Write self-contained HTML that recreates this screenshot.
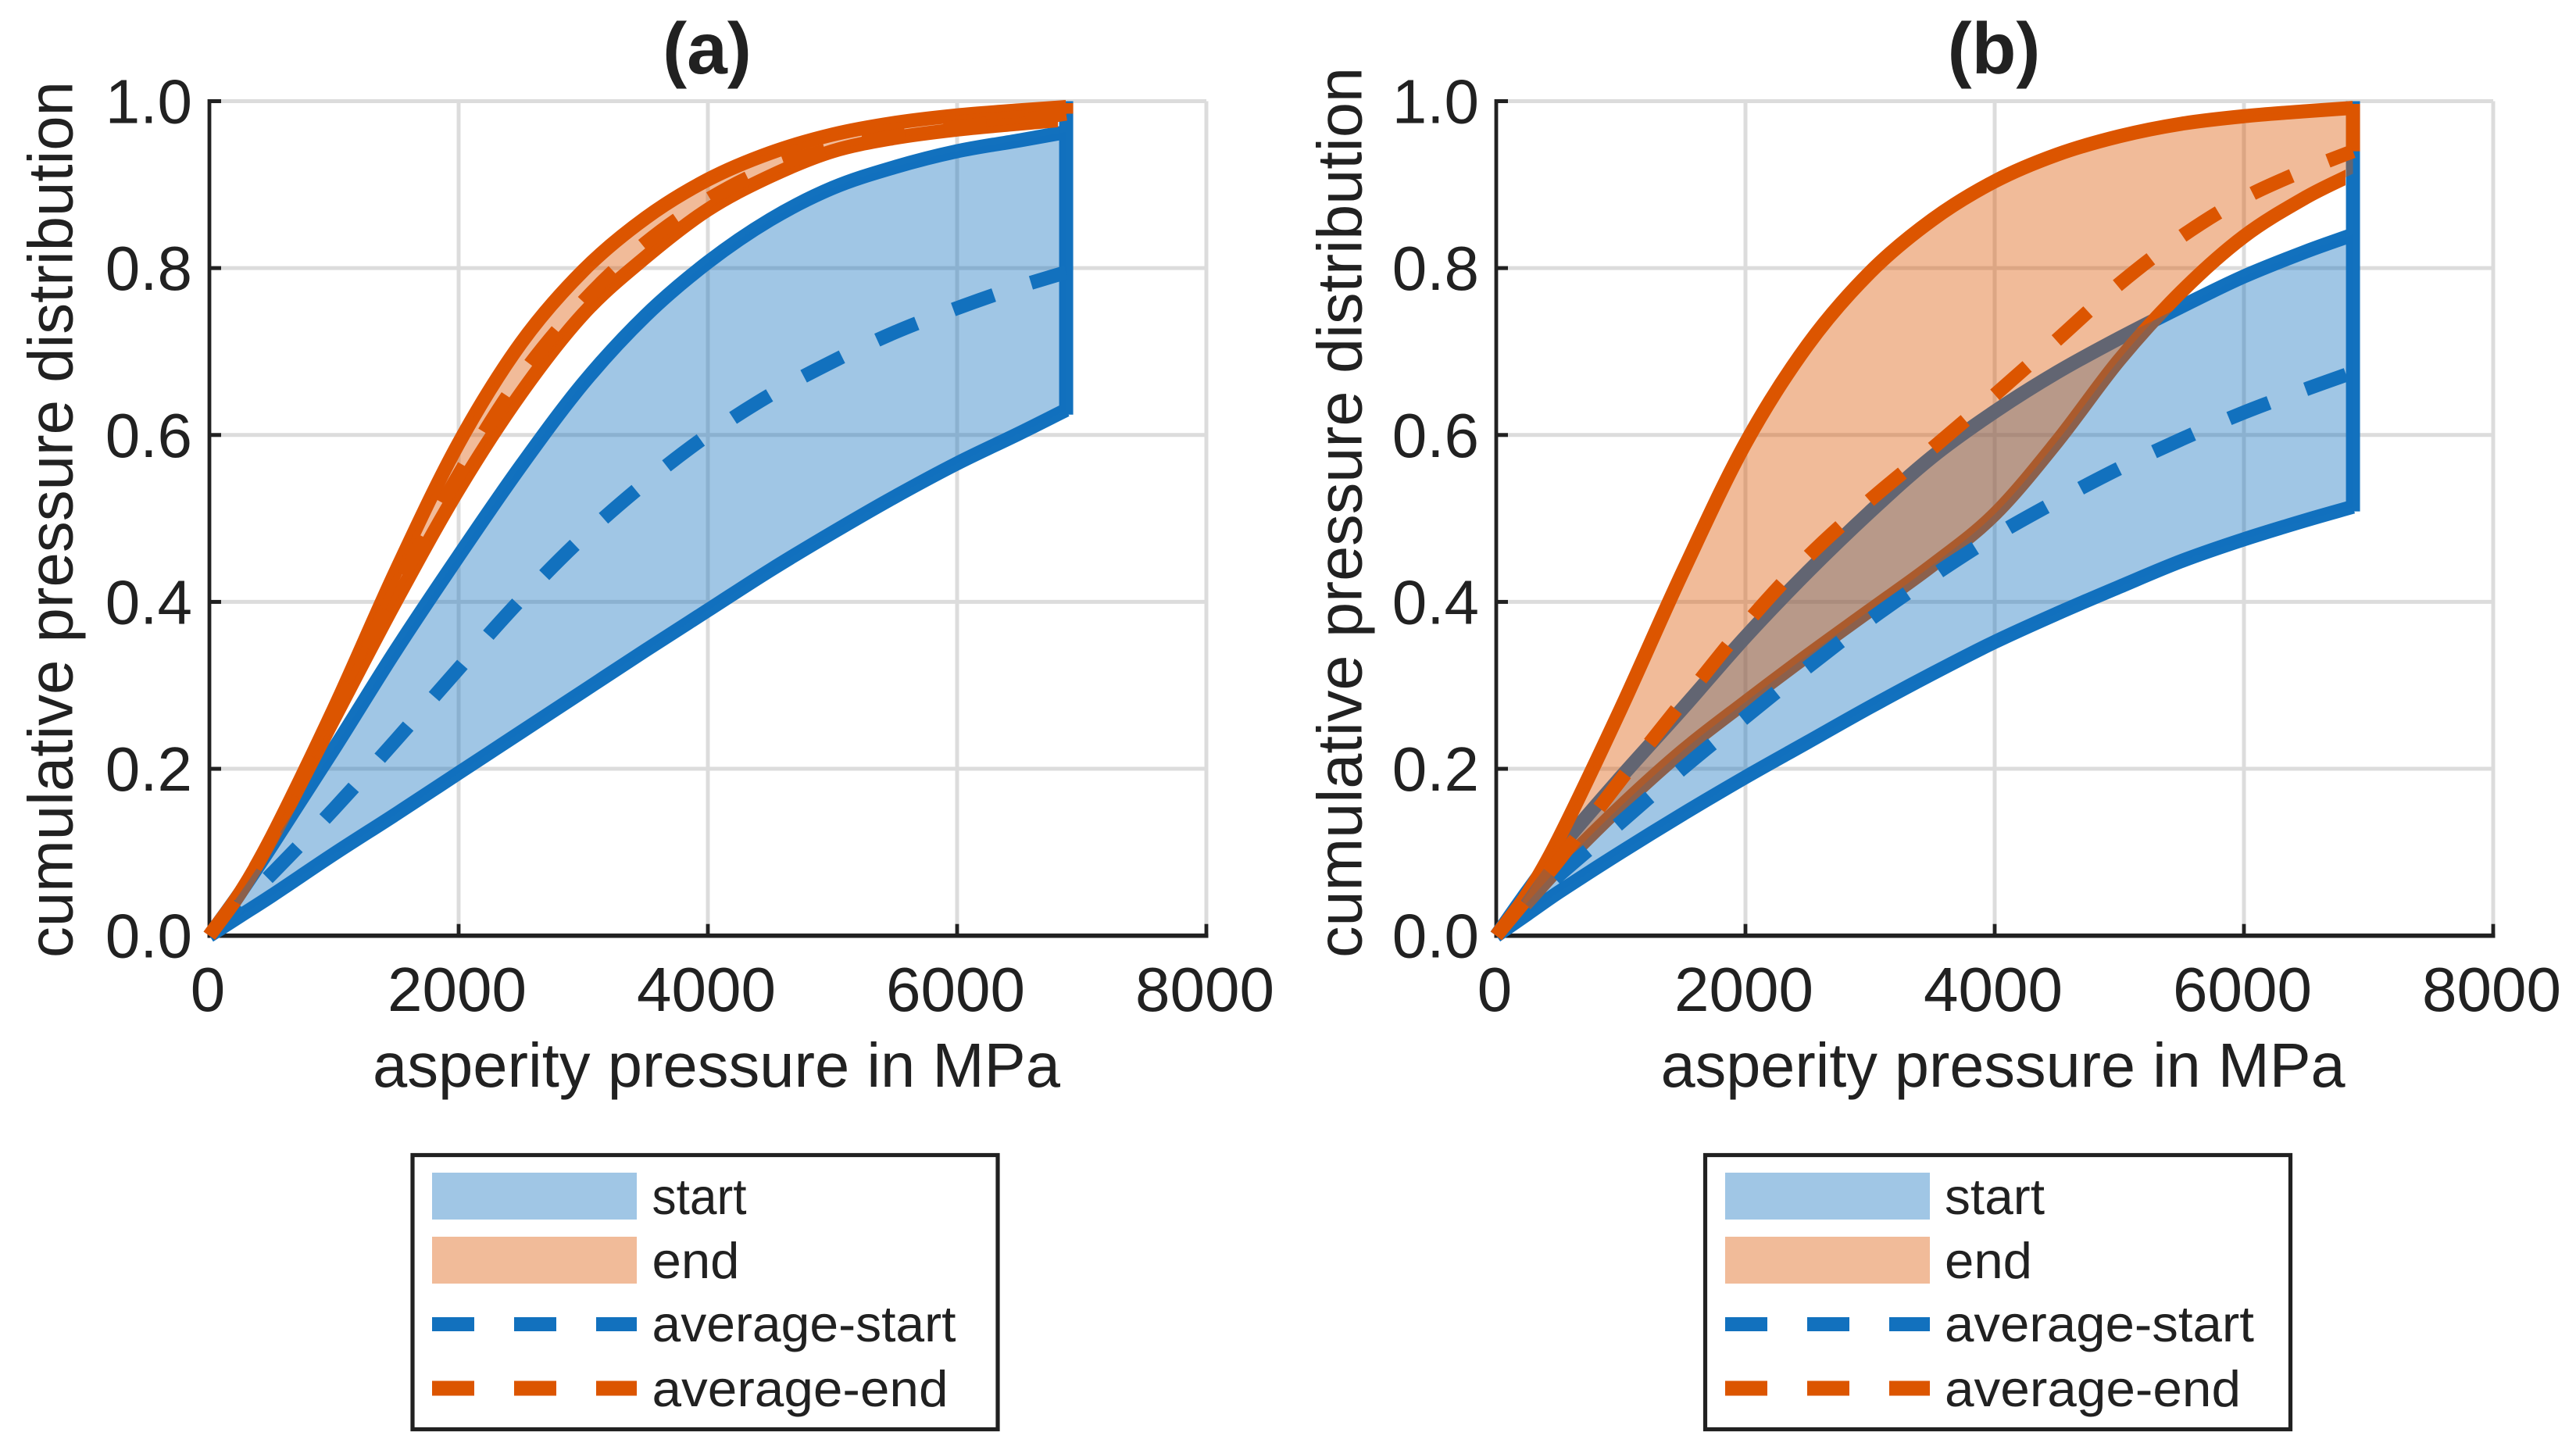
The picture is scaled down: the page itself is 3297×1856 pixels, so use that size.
<!DOCTYPE html>
<html lang="en">
<head>
<meta charset="utf-8">
<title>Cumulative pressure distribution</title>
<style>
html,body{margin:0;padding:0;background:#fff;}
svg{display:block;}
text{font-family:"Liberation Sans",Arial,sans-serif;fill:#212121;}
</style>
</head>
<body>
<svg id="figure" xmlns="http://www.w3.org/2000/svg" width="3297" height="1856" viewBox="0 0 3297 1856"></svg>
<script>
// Chart data
const xSamples = [0,250,500,1000,1500,2000,2500,3000,3500,4000,4500,5000,5500,6000,6500,6875];
const xTicks = [0,2000,4000,6000,8000];
const yTicks = [0,0.2,0.4,0.6,0.8,1.0];
const xTickLabels = ['0','2000','4000','6000','8000'];
const yTickLabels = ['0.0','0.2','0.4','0.6','0.8','1.0'];
const legendLabels = ['start','end','average-start','average-end'];

const aOrangeUpper = [0,.052,.118,.272,.438,.59,.71,.797,.86,.906,.938,.96,.974,.983,.989,.993];
const aOrangeLower = [0,.052,.116,.26,.402,.535,.65,.745,.813,.87,.91,.94,.956,.966,.973,.978];
const aOrangeAvg   = [0,.052,.118,.265,.415,.552,.67,.76,.83,.882,.92,.943,.958,.969,.977,.985];
const aBlueUpper   = [0,.052,.108,.224,.343,.455,.563,.662,.743,.807,.858,.896,.921,.94,.953,.963];
const aBlueAvg     = [0,.038,.074,.152,.235,.32,.403,.478,.543,.60,.648,.688,.723,.752,.778,.795];
const aBlueLower   = [0,.024,.048,.098,.146,.195,.244,.293,.342,.39,.438,.483,.526,.566,.602,.63];

const bOrangeUpper = [0,.05,.116,.272,.437,.59,.708,.795,.858,.904,.936,.958,.973,.982,.988,.992];
const bOrangeLower = [0,.04,.081,.155,.222,.28,.336,.39,.444,.505,.592,.69,.772,.838,.885,.913];
const bOrangeAvg   = [0,.045,.09,.187,.281,.373,.454,.522,.584,.648,.714,.781,.838,.884,.918,.94];
const bBlueUpper   = [0,.053,.103,.19,.273,.358,.436,.508,.574,.628,.675,.716,.754,.79,.82,.84];
const bBlueAvg     = [0,.037,.072,.136,.201,.262,.322,.379,.431,.479,.521,.56,.595,.627,.655,.675];
const bBlueLower   = [0,.026,.052,.10,.146,.19,.232,.274,.314,.352,.386,.418,.449,.475,.498,.514];

const BLUE = '#1271be', ORANGE = '#dc5500', AXIS = '#212121', GRID = '#dcdcdc';
const SVGNS = 'http://www.w3.org/2000/svg';
const svg = document.getElementById('figure');

function make(parent, tag, name, props, content) {
  const el = document.createElementNS(SVGNS, tag);
  
  
  for (const k in props) el.setAttribute(k, props[k]);
  if (content !== undefined) el.textContent = content;
  parent.appendChild(el);
  return el;
}

function drawPanel(p) {
  const g = make(svg, 'g', 'panel-' + p.id, {});
  const xPos = v => p.x0 + (v / 8000) * (p.x1 - p.x0);
  const yPos = v => p.y0 - v * (p.y0 - p.y1);

  // Smooth curve through the data points (non-uniform Catmull-Rom tangents)
  function curve(xs, ys, start) {
    const pts = xs.map((x, i) => [xPos(x), yPos(ys[i])]);
    let d = (start ? 'M' : 'L') + pts[0][0].toFixed(2) + ' ' + pts[0][1].toFixed(2);
    const slope = i => {
      const a = pts[Math.max(i - 1, 0)], e = pts[Math.min(i + 1, pts.length - 1)];
      return (e[1] - a[1]) / (e[0] - a[0]);
    };
    for (let i = 0; i < pts.length - 1; i++) {
      const b = pts[i], c = pts[i + 1], h = (c[0] - b[0]) / 3;
      const c1x = b[0] + h, c1y = b[1] + slope(i) * h;
      const c2x = c[0] - h, c2y = c[1] - slope(i + 1) * h;
      d += 'C' + [c1x, c1y, c2x, c2y, c[0], c[1]].map(n => n.toFixed(2)).join(' ');
    }
    return d;
  }
  function band(lower, upper) {
    const revX = xSamples.slice().reverse();
    const revUp = upper.slice().reverse();
    return curve(xSamples, lower, true) + curve(revX, revUp, false) + 'Z';
  }

  // Grid
  const gridGroup = make(g, 'g', 'grid-' + p.id, {});
  xTicks.slice(1).forEach(t => {
    make(gridGroup, 'line', 'grid-line-x', {x1: xPos(t), x2: xPos(t), y1: yPos(1), y2: yPos(0), stroke: GRID, 'stroke-width': 5});
  });
  yTicks.slice(1).forEach(t => {
    make(gridGroup, 'line', 'grid-line-y', {x1: xPos(0), x2: xPos(8000), y1: yPos(t), y2: yPos(t), stroke: GRID, 'stroke-width': 5});
  });

  // Axes
  const axes = make(g, 'g', 'axes-' + p.id, {});
  make(axes, 'line', 'y-axis-line', {x1: xPos(0), x2: xPos(0), y1: yPos(1) - 2.5, y2: yPos(0) + 2.8, stroke: AXIS, 'stroke-width': 4.8});
  make(axes, 'line', 'x-axis-line', {x1: xPos(0) - 2.4, x2: xPos(8000) + 2.5, y1: yPos(0), y2: yPos(0), stroke: AXIS, 'stroke-width': 5.6});
  xTicks.forEach((t, i) => {
    if (i > 0) make(axes, 'line', 'x-tick', {x1: xPos(t), x2: xPos(t), y1: yPos(0), y2: yPos(0) - 15, stroke: AXIS, 'stroke-width': 4.8});
    make(axes, 'text', 'x-tick-label', {x: xPos(t) - 2, y: 1294, 'text-anchor': 'middle', 'font-size': 80}, xTickLabels[i]);
  });
  yTicks.forEach((t, i) => {
    if (i > 0) make(axes, 'line', 'y-tick', {x1: xPos(0), x2: xPos(0) + 15, y1: yPos(t), y2: yPos(t), stroke: AXIS, 'stroke-width': 5});
    make(axes, 'text', 'y-tick-label', {x: xPos(0) - 22, y: yPos(t) + 28, 'text-anchor': 'end', 'font-size': 80}, yTickLabels[i]);
  });

  // Layer order follows the reference: solid lines below the translucent bands
  const endX = xSamples[xSamples.length - 1];
  const lowerEnd = p.blueLower[p.blueLower.length - 1];
  const orangeTopEnd = p.orangeUpper[p.orangeUpper.length - 1];
  const orangeAvgEnd = p.orangeAvg[p.orangeAvg.length - 1];

  make(g, 'path', 'start-upper-line', {d: curve(xSamples, p.blueUpper, true), fill: 'none', stroke: BLUE, 'stroke-width': 18, 'stroke-linejoin': 'round'});
  make(g, 'path', 'start-lower-line', {d: curve(xSamples, p.blueLower, true), fill: 'none', stroke: BLUE, 'stroke-width': 18, 'stroke-linejoin': 'round'});
  make(g, 'path', 'start-end-edge', {d: 'M' + xPos(endX) + ' ' + (yPos(lowerEnd) + 6) + 'L' + xPos(endX) + ' ' + yPos(1), fill: 'none', stroke: BLUE, 'stroke-width': 18});

  const clipId = 'lower-clip-' + p.id;
  const clip = make(g, 'clipPath', 'lower-line-clip', {id: clipId});
  make(clip, 'rect', 'lower-line-clip-area', {x: 0, y: 0, width: xPos(p.lowerLineEnd), height: 1856});
  make(g, 'path', 'end-lower-line', {d: curve(xSamples, p.orangeLower, true), fill: 'none', stroke: ORANGE, 'stroke-width': 18, 'clip-path': 'url(#' + clipId + ')'});
  make(g, 'path', 'end-upper-line', {d: curve(xSamples, p.orangeUpper, true), fill: 'none', stroke: ORANGE, 'stroke-width': 18});
  make(g, 'path', 'end-end-edge', {d: 'M' + xPos(endX) + ' ' + (yPos(orangeTopEnd) - 5) + 'L' + xPos(endX) + ' ' + yPos(orangeAvgEnd), fill: 'none', stroke: ORANGE, 'stroke-width': 18});

  make(g, 'path', 'start-band', {d: band(p.blueLower, p.blueUpper), fill: BLUE, 'fill-opacity': 0.4, stroke: 'none'});
  make(g, 'path', 'average-start-line', {d: curve(xSamples, p.blueAvg, true), fill: 'none', stroke: BLUE, 'stroke-width': 18, 'stroke-dasharray': '55 50'});
  make(g, 'path', 'end-band', {d: band(p.orangeLower, p.orangeUpper), fill: ORANGE, 'fill-opacity': 0.4, stroke: 'none'});
  make(g, 'path', 'average-end-line', {d: curve(xSamples, p.orangeAvg, true), fill: 'none', stroke: ORANGE, 'stroke-width': 18, 'stroke-dasharray': '55 50'});

  // Titles
  make(g, 'text', 'chart-title-' + p.id, {x: (p.x0 + p.x1) / 2 - 1, y: 94, 'text-anchor': 'middle', 'font-size': 93, 'font-weight': 'bold'}, p.title);
  make(g, 'text', 'x-axis-title', {x: p.xLabelX, y: 1391, 'font-size': 80, textLength: p.xLabelLen, lengthAdjust: 'spacingAndGlyphs'}, 'asperity pressure in MPa');
  make(g, 'text', 'y-axis-title', {transform: 'translate(' + p.yLabelX + ' ' + p.yLabelBottom + ') rotate(-90)', x: 0, y: 0, 'font-size': 81, textLength: p.yLabelLen, lengthAdjust: 'spacingAndGlyphs'}, 'cumulative pressure distribution');

  // Legend
  const lg = make(g, 'g', 'legend-' + p.id, {});
  make(lg, 'rect', 'legend-box', {x: p.legX, y: 1478.5, width: p.legW, height: 351, fill: '#fff', stroke: AXIS, 'stroke-width': 5.2});
  make(lg, 'rect', 'legend-swatch-start', {x: p.swatchX, y: 1501, width: 262, height: 60, fill: '#a0c6e5'});
  make(lg, 'rect', 'legend-swatch-end', {x: p.swatchX, y: 1583, width: 262, height: 60, fill: '#f1bb99'});
  make(lg, 'line', 'legend-line-average-start', {x1: p.swatchX, x2: p.swatchX + 262, y1: 1695, y2: 1695, stroke: BLUE, 'stroke-width': 18, 'stroke-dasharray': '54 51'});
  make(lg, 'line', 'legend-line-average-end', {x1: p.swatchX, x2: p.swatchX + 262, y1: 1777, y2: 1777, stroke: ORANGE, 'stroke-width': 19, 'stroke-dasharray': '54 51'});
  const baselines = [1554, 1636, 1717, 1800];
  legendLabels.forEach((label, i) => {
    make(lg, 'text', 'legend-label', {x: p.textX, y: baselines[i], 'font-size': 65, textLength: p.legendWidths[i], lengthAdjust: 'spacingAndGlyphs'}, label);
  });
}

drawPanel({
  id: 'a', title: '(a)', x0: 268, x1: 1544, y0: 1197.7, y1: 129.5,
  orangeUpper: aOrangeUpper, orangeLower: aOrangeLower, orangeAvg: aOrangeAvg,
  blueUpper: aBlueUpper, blueAvg: aBlueAvg, blueLower: aBlueLower,
  lowerLineEnd: 6810,
  xLabelX: 477, xLabelLen: 880, yLabelX: 92.5, yLabelBottom: 1226, yLabelLen: 1122,
  legX: 528, legW: 749, swatchX: 553, textX: 834.5, legendWidths: [121, 112, 389, 379]
});
drawPanel({
  id: 'b', title: '(b)', x0: 1915, x1: 3191, y0: 1197.7, y1: 129.5,
  orangeUpper: bOrangeUpper, orangeLower: bOrangeLower, orangeAvg: bOrangeAvg,
  blueUpper: bBlueUpper, blueAvg: bBlueAvg, blueLower: bBlueLower,
  lowerLineEnd: 6815,
  xLabelX: 2125.6, xLabelLen: 876, yLabelX: 1742.5, yLabelBottom: 1226, yLabelLen: 1140,
  legX: 2182.5, legW: 749, swatchX: 2208, textX: 2489, legendWidths: [128, 112, 396, 379]
});
</script>
</body>
</html>
